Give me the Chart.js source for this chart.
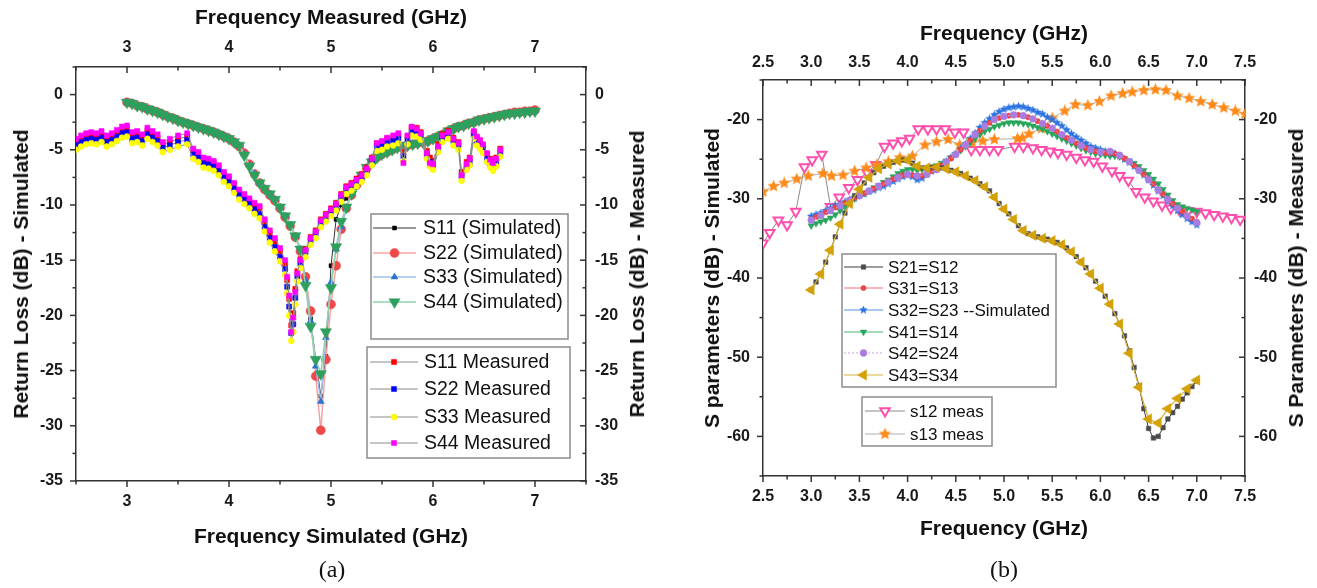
<!DOCTYPE html>
<html lang="en">
<head>
<meta charset="UTF-8">
<title>Return loss and S parameters</title>
<script src="https://cdn.jsdelivr.net/npm/chart.js"></script>
<style>
    body {
        margin: 0;
        background: #fff;
        width: 1317px;
        height: 588px;
        position: relative;
        overflow: hidden;
        font-family: "Liberation Sans", Arial, sans-serif;
        color: #111;
    }

    canvas {
        position: absolute;
        top: 0;
    }

    #chartA { left: 0; }
    #chartB { left: 660px; }

    .t {
        position: absolute;
        font-weight: bold;
        font-size: 21px;
        white-space: nowrap;
        transform: translate(-50%, -50%);
    }

    .t.v {
        transform: translate(-50%, -50%) rotate(-90deg);
    }

    .cap {
        position: absolute;
        font-family: "Liberation Serif", "Times New Roman", serif;
        font-size: 24px;
        transform: translate(-50%, -50%);
    }
</style>
</head>
<body>
<canvas id="chartA" width="660" height="550"></canvas>
<canvas id="chartB" width="657" height="550"></canvas>

<div class="t" style="left:331px;top:17px">Frequency Measured (GHz)</div>
<div class="t" style="left:331px;top:536px">Frequency Simulated (GHz)</div>
<div class="t v" style="left:21px;top:274px">Return Loss (dB) - Simulated</div>
<div class="t v" style="left:637px;top:274px">Return Loss (dB) - Measured</div>
<div class="cap" style="left:332px;top:569px">(a)</div>

<div class="t" style="left:1004px;top:33px">Frequency (GHz)</div>
<div class="t" style="left:1004px;top:528px">Frequency (GHz)</div>
<div class="t v" style="left:712px;top:278px">S parameters (dB) - Simulated</div>
<div class="t v" style="left:1296px;top:278px">S Parameters (dB) - Measured</div>
<div class="cap" style="left:1004px;top:569px">(b)</div>

<script>
    // ---------- (a) return loss ----------
    const simX = [3.00, 3.05, 3.10, 3.15, 3.20, 3.25, 3.30, 3.35, 3.40, 3.45,
        3.50, 3.55, 3.60, 3.65, 3.70, 3.75, 3.80, 3.85, 3.90, 3.95,
        4.00, 4.05, 4.10, 4.15, 4.20, 4.25, 4.30, 4.35, 4.40, 4.45,
        4.50, 4.55, 4.60, 4.65, 4.70, 4.75, 4.80, 4.85, 4.90, 4.95,
        5.00, 5.05, 5.10, 5.15, 5.20, 5.25, 5.30, 5.35, 5.40, 5.45,
        5.50, 5.55, 5.60, 5.65, 5.70, 5.75, 5.80, 5.85, 5.90, 5.95,
        6.00, 6.05, 6.10, 6.15, 6.20, 6.25, 6.30, 6.35, 6.40, 6.45,
        6.50, 6.55, 6.60, 6.65, 6.70, 6.75, 6.80, 6.85, 6.90, 6.95,
        7.00];

    const s11Sim = [-0.7, -0.8, -1.0, -1.1, -1.3, -1.45, -1.6, -1.8, -2.0, -2.15,
        -2.35, -2.5, -2.65, -2.8, -2.95, -3.1, -3.25, -3.4, -3.6, -3.8,
        -4.0, -4.3, -4.6, -5.4, -6.4, -7.3, -8.0, -8.5, -9.0, -9.5,
        -10.2, -11.0, -11.8, -12.8, -14.0, -17.0, -20.3, -24.0, -27.3, -23.7,
        -15.5, -11.3, -10.0, -9.4, -8.8, -8.1, -7.3, -6.6, -6.1, -5.7,
        -5.4, -5.2, -5.0, -4.8, -4.7, -4.6, -4.5, -4.4, -4.3, -4.2,
        -4.0, -3.8, -3.6, -3.3, -3.1, -2.9, -2.8, -2.6, -2.5, -2.3,
        -2.2, -2.1, -2.0, -1.9, -1.8, -1.7, -1.7, -1.6, -1.6, -1.5,
        -1.5];
    const s22Sim = [-0.7, -0.8, -1.0, -1.1, -1.3, -1.45, -1.6, -1.8, -2.0, -2.15,
        -2.35, -2.5, -2.65, -2.8, -2.95, -3.1, -3.25, -3.4, -3.6, -3.8,
        -4.0, -4.3, -4.7, -5.3, -6.3, -7.2, -8.0, -8.6, -9.1, -9.6,
        -10.3, -11.1, -11.9, -12.9, -14.2, -16.5, -19.6, -25.5, -30.4, -24.0,
        -19.0, -15.5, -12.2, -10.3, -9.1, -8.2, -7.4, -6.7, -6.1, -5.7,
        -5.4, -5.2, -5.0, -4.8, -4.7, -4.6, -4.5, -4.4, -4.3, -4.2,
        -4.0, -3.8, -3.6, -3.3, -3.1, -2.9, -2.8, -2.6, -2.5, -2.3,
        -2.2, -2.1, -2.0, -1.9, -1.8, -1.7, -1.6, -1.6, -1.5, -1.5,
        -1.4];
    const s33Sim = [-0.7, -0.8, -1.0, -1.1, -1.3, -1.45, -1.6, -1.8, -2.0, -2.15,
        -2.35, -2.5, -2.65, -2.8, -2.95, -3.1, -3.25, -3.4, -3.6, -3.8,
        -4.0, -4.3, -4.6, -5.4, -6.4, -7.2, -8.0, -8.5, -9.0, -9.5,
        -10.2, -11.0, -11.8, -12.8, -14.0, -16.8, -20.5, -24.6, -27.8, -22.0,
        -17.0, -14.0, -12.0, -10.3, -9.0, -8.1, -7.3, -6.6, -6.1, -5.7,
        -5.4, -5.2, -5.0, -4.8, -4.7, -4.6, -4.5, -4.4, -4.3, -4.2,
        -4.0, -3.8, -3.6, -3.3, -3.1, -2.9, -2.8, -2.6, -2.5, -2.3,
        -2.2, -2.1, -2.0, -1.9, -1.8, -1.7, -1.7, -1.6, -1.6, -1.5,
        -1.5];
    const s44Sim = [-0.7, -0.8, -1.0, -1.1, -1.3, -1.45, -1.6, -1.8, -2.0, -2.15,
        -2.35, -2.5, -2.65, -2.8, -2.95, -3.1, -3.25, -3.4, -3.6, -3.8,
        -4.0, -4.3, -4.6, -5.5, -6.5, -7.3, -8.0, -8.5, -9.0, -9.5,
        -10.2, -11.0, -11.8, -12.8, -14.0, -17.3, -21.0, -24.0, -25.3, -21.5,
        -17.5, -13.8, -11.5, -10.2, -9.0, -8.1, -7.3, -6.6, -6.1, -5.7,
        -5.4, -5.2, -5.0, -4.8, -4.7, -4.6, -4.5, -4.4, -4.3, -4.2,
        -4.0, -3.8, -3.6, -3.3, -3.1, -2.9, -2.8, -2.6, -2.5, -2.3,
        -2.2, -2.1, -2.0, -1.9, -1.8, -1.7, -1.7, -1.6, -1.6, -1.5,
        -1.5];

    const measX = [2.50, 2.55, 2.60, 2.65, 2.70, 2.75, 2.80, 2.85, 2.90, 2.95,
        3.00, 3.05, 3.10, 3.15, 3.20, 3.25, 3.30, 3.35, 3.42, 3.50,
        3.59, 3.65, 3.70, 3.75, 3.80, 3.85, 3.90, 3.95, 4.00, 4.05,
        4.10, 4.15, 4.20, 4.25, 4.30, 4.35, 4.40, 4.45, 4.50, 4.55,
        4.57, 4.59, 4.61, 4.63, 4.65, 4.67, 4.70, 4.75, 4.80, 4.85,
        4.90, 4.95, 5.00, 5.05, 5.10, 5.15, 5.20, 5.25, 5.30, 5.35,
        5.40, 5.45, 5.50, 5.55, 5.61, 5.66, 5.71, 5.75, 5.79, 5.84,
        5.88, 5.94, 5.97, 6.00, 6.05, 6.09, 6.15, 6.20, 6.25, 6.28,
        6.33, 6.36, 6.40, 6.43, 6.46, 6.49, 6.53, 6.56, 6.59, 6.62,
        6.66];

    const s11Meas = [-4.3, -4.0, -3.8, -3.7, -3.8, -3.6, -4.0, -3.8, -3.5, -3.2,
        -3.1, -3.7, -3.6, -3.9, -3.3, -3.6, -3.9, -4.5, -4.3, -4.0,
        -3.8, -5.1, -5.4, -5.9, -6.0, -6.2, -6.6, -7.2, -7.6, -8.2,
        -8.8, -9.2, -9.6, -10.0, -10.3, -11.6, -12.6, -13.3, -14.2, -15.3,
        -16.8, -18.5, -20.9, -19.8, -17.6, -16.0, -14.9, -14.0, -12.9, -12.3,
        -11.3, -10.8, -10.3, -9.8, -9.0, -8.3, -8.0, -7.6, -7.2, -6.6,
        -5.7, -4.4, -4.3, -4.0, -3.9, -3.7, -5.2, -3.8, -3.0, -3.0,
        -3.4, -5.1, -5.7, -6.0, -4.5, -3.6, -3.3, -3.9, -4.3, -7.0,
        -6.1, -5.7, -3.4, -3.9, -4.2, -4.6, -5.4, -5.8, -6.0, -5.7,
        -4.9];
    const s22Meas = [-4.6, -4.3, -4.1, -4.0, -4.1, -3.9, -4.3, -4.1, -3.8, -3.5,
        -3.4, -4.0, -3.9, -4.2, -3.6, -3.9, -4.2, -4.8, -4.6, -4.3,
        -4.1, -5.4, -5.7, -6.2, -6.3, -6.5, -6.9, -7.5, -7.9, -8.5,
        -9.1, -9.5, -9.9, -10.4, -10.8, -12.0, -13.0, -13.8, -14.7, -15.8,
        -17.4, -19.2, -21.6, -20.8, -18.4, -16.5, -15.3, -14.3, -13.2, -12.6,
        -11.6, -11.1, -10.6, -10.1, -9.3, -8.6, -8.3, -7.9, -7.5, -6.9,
        -6.0, -4.7, -4.6, -4.3, -4.2, -4.0, -5.6, -4.1, -3.4, -3.4,
        -3.8, -5.5, -6.1, -6.4, -4.9, -3.9, -3.6, -4.2, -4.6, -7.4,
        -6.5, -6.1, -3.7, -4.2, -4.5, -4.9, -5.8, -6.2, -6.4, -6.1,
        -5.3];
    const s33Meas = [-5.0, -4.7, -4.5, -4.4, -4.5, -4.3, -4.7, -4.5, -4.2, -3.9,
        -3.8, -4.4, -4.3, -4.6, -4.0, -4.3, -4.6, -5.2, -5.0, -4.7,
        -4.5, -5.8, -6.1, -6.6, -6.7, -6.9, -7.3, -7.9, -8.3, -8.9,
        -9.5, -9.9, -10.3, -10.8, -11.2, -12.4, -13.4, -14.2, -15.1, -16.3,
        -18.0, -20.0, -22.3, -21.5, -19.0, -16.9, -15.7, -14.7, -13.6, -13.0,
        -12.0, -11.5, -11.0, -10.5, -9.7, -9.0, -8.7, -8.3, -7.9, -7.3,
        -6.4, -5.1, -5.0, -4.7, -4.6, -4.4, -6.0, -4.5, -3.7, -3.8,
        -4.1, -5.8, -6.5, -6.8, -5.2, -4.3, -4.0, -4.6, -5.0, -7.8,
        -6.8, -6.4, -4.0, -4.6, -4.9, -5.3, -6.1, -6.6, -6.9, -6.5,
        -5.6];
    const s44Meas = [-4.0, -3.7, -3.5, -3.4, -3.5, -3.3, -3.7, -3.5, -3.2, -2.9,
        -2.8, -3.4, -3.3, -3.6, -3.0, -3.3, -3.6, -4.3, -4.0, -3.7,
        -3.5, -4.9, -5.2, -5.7, -5.8, -6.0, -6.4, -7.0, -7.4, -8.0,
        -8.6, -9.0, -9.4, -9.8, -10.1, -11.3, -12.3, -13.0, -13.9, -15.0,
        -16.5, -18.2, -21.5, -20.2, -17.9, -16.2, -15.0, -14.1, -13.0, -12.4,
        -11.4, -10.9, -10.4, -9.9, -9.1, -8.4, -8.1, -7.7, -7.3, -6.7,
        -5.8, -4.4, -4.2, -3.9, -3.7, -3.5, -6.2, -3.7, -2.9, -3.1,
        -3.5, -5.3, -6.2, -6.3, -4.7, -3.7, -3.4, -4.0, -4.4, -7.3,
        -6.3, -5.8, -3.3, -3.8, -4.1, -4.5, -5.3, -5.9, -6.2, -5.8,
        -5.0];

    const aXTicks = [3, 4, 5, 6, 7];
    const aYTicks = [0, -5, -10, -15, -20, -25, -30, -35];

    // ---------- (b) S parameters ----------
    const coarseX = [3.0, 3.1, 3.2, 3.3, 3.4, 3.5, 3.6, 3.7, 3.8, 3.9,
        4.0, 4.1, 4.2, 4.3, 4.4, 4.5, 4.6, 4.7, 4.8, 4.9,
        5.0, 5.1, 5.2, 5.3, 5.4, 5.5, 5.6, 5.7, 5.8, 5.9,
        6.0, 6.1, 6.2, 6.3, 6.4, 6.5, 6.6, 6.7, 6.8, 6.9,
        7.0];

    const s21 = [-41.5, -40.5, -39.5, -38.0, -36.5, -34.8, -33.2, -31.8, -30.6, -29.6,
        -28.8, -28.0, -27.3, -26.7, -26.2, -25.9, -25.6, -25.4, -25.2, -25.1,
        -25.2, -25.5, -25.9, -26.1, -26.1, -26.0, -26.0, -26.1, -26.2, -26.4,
        -26.6, -26.8, -27.1, -27.4, -27.7, -28.1, -28.5, -29.0, -29.8, -30.6,
        -31.3, -31.9, -32.6, -33.4, -34.0, -34.4, -34.6, -34.8, -35.0, -35.1,
        -35.3, -35.5, -35.8, -36.2, -36.7, -37.3, -38.0, -38.7, -39.5, -40.4,
        -41.3, -42.3, -43.3, -44.5, -45.8, -47.3, -49.2, -51.3, -53.6, -56.5,
        -59.0, -60.2, -60.0, -58.9, -57.8, -57.0, -56.2, -55.3, -54.5, -53.7,
        -53.0];
    const s31 = [-32.6, -32.3, -32.0, -31.7, -31.4, -31.1, -30.8, -30.5, -30.2, -29.9,
        -29.6, -29.3, -29.0, -28.7, -28.4, -28.1, -27.8, -27.5, -27.2, -27.0,
        -26.9, -27.0, -27.2, -27.1, -26.8, -26.5, -26.2, -25.8, -25.4, -24.9,
        -24.4, -23.8, -23.2, -22.6, -22.0, -21.4, -20.9, -20.4, -20.0, -19.8,
        -19.6, -19.5, -19.4, -19.4, -19.5, -19.7, -19.9, -20.2, -20.5, -20.8,
        -21.1, -21.5, -21.9, -22.3, -22.6, -23.0, -23.3, -23.6, -23.8, -24.0,
        -24.1, -24.2, -24.2, -24.3, -24.6, -24.9, -25.3, -25.8, -26.3, -26.9,
        -27.5, -28.1, -28.8, -29.4, -30.0, -30.6, -31.1, -31.6, -32.1, -32.5,
        -32.9];
    const s32 = [-32.2, -32.0, -31.8, -31.5, -31.2, -30.9, -30.7, -30.4, -30.1, -29.9,
        -29.6, -29.4, -29.1, -28.9, -28.6, -28.4, -28.1, -27.8, -27.5, -27.2,
        -27.0, -27.2, -27.6, -27.4, -26.9, -26.5, -26.2, -25.8, -25.3, -24.8,
        -24.3, -23.7, -23.1, -22.4, -21.7, -21.0, -20.4, -19.9, -19.4, -19.0,
        -18.7, -18.5, -18.4, -18.3, -18.4, -18.6, -18.8, -19.1, -19.3, -19.7,
        -20.0, -20.4, -20.8, -21.3, -21.8, -22.2, -22.6, -23.0, -23.4, -23.6,
        -23.8, -24.0, -24.1, -24.3, -24.6, -25.0, -25.4, -25.9, -26.4, -27.0,
        -27.6, -28.3, -29.0, -29.6, -30.3, -30.9, -31.5, -32.0, -32.5, -32.9,
        -33.3];
    const s41 = [-33.4, -33.1, -32.9, -32.7, -32.4, -32.0, -31.5, -31.0, -30.5, -30.0,
        -29.6, -29.3, -29.0, -28.6, -28.3, -27.9, -27.6, -27.2, -26.8, -26.5,
        -26.3, -26.3, -26.4, -26.3, -26.2, -26.0, -25.8, -25.5, -25.2, -24.8,
        -24.4, -23.9, -23.4, -22.9, -22.4, -21.9, -21.5, -21.2, -20.9, -20.7,
        -20.5, -20.4, -20.4, -20.4, -20.5, -20.6, -20.8, -21.0, -21.2, -21.5,
        -21.8, -22.1, -22.4, -22.7, -23.0, -23.3, -23.6, -23.9, -24.1, -24.3,
        -24.4, -24.5, -24.6, -24.6, -24.7, -24.9, -25.2, -25.5, -25.9, -26.4,
        -26.9, -27.5, -28.1, -28.8, -29.5, -30.2, -30.7, -31.0, -31.2, -31.4,
        -31.6];
    const s42 = [-32.7, -32.1, -31.5, -30.9, -30.2, -29.6, -29.0, -28.4, -27.9, -27.3,
        -26.9, -27.1, -26.9, -26.3, -25.4, -24.4, -23.2, -21.9, -20.8, -20.0,
        -19.6, -19.4, -19.5, -19.9, -20.5, -21.1, -21.9, -22.6, -23.3, -23.8,
        -24.1, -24.0, -24.5, -25.3, -26.4, -27.6, -28.9, -30.1, -31.2, -32.2,
        -33.0];
    const s43 = [-41.5, -39.5, -36.5, -33.2, -30.6, -28.8, -27.3, -26.2, -25.6, -25.2,
        -25.1, -25.9, -26.1, -26.0, -26.2, -26.6, -27.1, -27.7, -28.5, -29.8,
        -31.3, -32.6, -34.0, -34.6, -35.0, -35.3, -35.8, -36.7, -38.0, -39.5,
        -41.3, -43.3, -45.8, -49.5, -53.8, -57.8, -58.3, -56.5, -55.2, -54.0,
        -52.9];

    const s12MeasX = [2.50, 2.57, 2.66, 2.75, 2.84, 2.93, 3.01, 3.11, 3.20, 3.29,
        3.39, 3.48, 3.58, 3.67, 3.76, 3.85, 3.94, 4.02, 4.11, 4.21,
        4.30, 4.39, 4.49, 4.58, 4.66, 4.75, 4.85, 4.94, 5.11, 5.20,
        5.30, 5.39, 5.48, 5.56, 5.65, 5.75, 5.84, 5.93, 6.02, 6.12,
        6.20, 6.29, 6.37, 6.46, 6.55, 6.64, 6.73, 6.82, 6.91, 7.00,
        7.09, 7.18, 7.27, 7.36, 7.45];
    const s12Meas = [-35.6, -34.3, -32.7, -33.3, -31.6, -26.0, -25.1, -24.4, -31.0, -29.8,
        -28.6, -27.6, -26.7, -25.7, -23.4, -23.0, -22.7, -22.4, -21.2, -21.2,
        -21.2, -21.2, -21.6, -21.6, -23.8, -23.8, -23.8, -23.8, -23.4, -23.4,
        -23.6, -23.8, -24.0, -24.2, -24.4, -24.8, -25.1, -25.3, -25.9, -26.5,
        -27.1, -27.7, -29.1, -29.8, -30.3, -30.8, -31.2, -31.4, -31.5, -31.6,
        -31.8, -32.0, -32.2, -32.4, -32.6];

    const s13MeasX = [2.50, 2.61, 2.72, 2.85, 2.97, 3.12, 3.21, 3.33, 3.45, 3.57,
        3.68, 3.80, 3.92, 4.05, 4.18, 4.30, 4.42, 4.54, 4.67, 4.78,
        4.90, 5.14, 5.19, 5.26, 5.39, 5.50, 5.63, 5.74, 5.87, 5.99,
        6.11, 6.23, 6.33, 6.45, 6.57, 6.68, 6.80, 6.92, 7.04, 7.16,
        7.28, 7.40, 7.50];
    const s13Meas = [-29.1, -28.4, -28.0, -27.5, -27.1, -26.8, -27.1, -27.0, -26.5, -26.1,
        -25.7, -25.3, -24.8, -24.6, -23.2, -22.8, -22.5, -23.2, -22.9, -22.7,
        -22.5, -22.4, -22.3, -21.8, -21.1, -19.8, -18.9, -18.1, -18.2, -17.7,
        -17.0, -16.7, -16.5, -16.3, -16.2, -16.3, -17.0, -17.3, -17.7, -18.1,
        -18.5, -18.9, -19.3];

    const bXTicks = [2.5, 3.0, 3.5, 4.0, 4.5, 5.0, 5.5, 6.0, 6.5, 7.0, 7.5];
    const bYTicks = [-20, -30, -40, -50, -60];

    // ---------- helpers ----------
    function pts(xs, ys) {
        return xs.map((x, i) => ({ x: x, y: ys[i] }));
    }

    function starImg(size, fill) {
        const c = document.createElement('canvas');
        c.width = c.height = size;
        const g = c.getContext('2d');
        const r = size / 2, ri = r * 0.45;
        g.beginPath();
        for (let k = 0; k < 10; k++) {
            const a = -Math.PI / 2 + k * Math.PI / 5;
            const rr = k % 2 ? ri : r;
            g.lineTo(r + rr * Math.cos(a), r + rr * Math.sin(a));
        }
        g.closePath();
        g.fillStyle = fill;
        g.fill();
        return c;
    }

    function series(label, data, o) {
        return {
            label: label,
            data: data,
            showLine: true,
            tension: 0,
            borderColor: o.line,
            borderWidth: o.lw || 1,
            borderDash: o.dash || [],
            pointStyle: o.style,
            pointRotation: o.rot || 0,
            pointRadius: o.r,
            pointBackgroundColor: o.fill,
            pointBorderColor: o.stroke || o.fill,
            pointBorderWidth: o.bw || 0.5,
            order: o.order
        };
    }

    // marker drawn the same way Chart.js draws points, for the legend boxes
    function marker(ctx, ds, x, y) {
        const st = ds.pointStyle, r = ds.pointRadius;
        if (st instanceof HTMLCanvasElement) {
            ctx.drawImage(st, x - st.width / 2, y - st.height / 2);
            return;
        }
        ctx.save();
        ctx.translate(x, y);
        ctx.rotate(ds.pointRotation * Math.PI / 180);
        ctx.beginPath();
        if (st === 'circle') {
            ctx.arc(0, 0, r, 0, 2 * Math.PI);
        } else if (st === 'rect') {
            const s = r * Math.SQRT1_2;
            ctx.rect(-s, -s, 2 * s, 2 * s);
        } else {
            for (let k = 0; k < 3; k++) {
                const a = k * 2 * Math.PI / 3;
                ctx.lineTo(Math.sin(a) * r, -Math.cos(a) * r);
            }
            ctx.closePath();
        }
        ctx.fillStyle = ds.pointBackgroundColor;
        ctx.fill();
        ctx.lineWidth = ds.pointBorderWidth;
        ctx.strokeStyle = ds.pointBorderColor;
        ctx.stroke();
        ctx.restore();
    }

    const boxLegend = {
        id: 'boxLegend',
        afterDraw(chart, args, opts) {
            const ctx = chart.ctx;
            ctx.save();
            ctx.font = opts.font;
            ctx.textBaseline = 'middle';
            opts.boxes.forEach(b => {
                ctx.setLineDash([]);
                ctx.strokeStyle = '#8c8c8c';
                ctx.lineWidth = 1.5;
                ctx.strokeRect(b.x, b.y, b.w, b.h);
                b.rows.forEach(row => {
                    const ds = chart.data.datasets.find(d => d.label === row[0]);
                    ctx.strokeStyle = ds.borderColor;
                    ctx.lineWidth = ds.borderWidth;
                    ctx.setLineDash(ds.borderDash);
                    ctx.beginPath();
                    ctx.moveTo(b.x1, row[1]);
                    ctx.lineTo(b.x2, row[1]);
                    ctx.stroke();
                    ctx.setLineDash([]);
                    marker(ctx, ds, (b.x1 + b.x2) / 2, row[1]);
                    ctx.fillStyle = '#111';
                    ctx.fillText(ds.label, b.tx, row[1] + 1);
                });
            });
            ctx.restore();
        }
    };

    // major/minor tick marks: outward on bottom/left, inward on top/right
    const tickMarks = {
        id: 'tickMarks',
        afterDraw(chart, args, opts) {
            const ctx = chart.ctx, a = chart.chartArea;
            ctx.save();
            ctx.strokeStyle = '#333';
            ctx.lineWidth = 1.5;
            opts.axes.forEach(t => {
                const sc = chart.scales[t.id];
                const n = Math.round((sc.max - sc.min) / t.minor);
                for (let k = 0; k <= n; k++) {
                    const v = sc.min + k * t.minor;
                    const major = Math.abs(v / t.major - Math.round(v / t.major)) < 1e-6;
                    const len = major ? 6 : 3.5;
                    const p = sc.getPixelForValue(v);
                    ctx.beginPath();
                    if (sc.position === 'bottom') { ctx.moveTo(p, a.bottom); ctx.lineTo(p, a.bottom + len); }
                    else if (sc.position === 'top') { ctx.moveTo(p, a.top); ctx.lineTo(p, a.top + len); }
                    else if (sc.position === 'left') { ctx.moveTo(a.left, p); ctx.lineTo(a.left - len, p); }
                    else { ctx.moveTo(a.right, p); ctx.lineTo(a.right - len, p); }
                    ctx.stroke();
                }
            });
            ctx.restore();
        }
    };

    function axis(pos, min, max, tickList, fmt, pad, size) {
        return {
            type: 'linear',
            position: pos,
            min: min,
            max: max,
            grid: { display: false, drawTicks: false },
            border: { display: true, color: '#333', width: 1.5 },
            ticks: {
                padding: pad,
                color: '#1a1a1a',
                autoSkip: false,
                maxRotation: 0,
                font: { family: 'Liberation Sans', size: 16, weight: 'bold' },
                callback: fmt
            },
            afterBuildTicks: s => { s.ticks = tickList.map(v => ({ value: v })); },
            afterFit: s => { if (s.isHorizontal()) s.height = size; else s.width = size; }
        };
    }

    const intFmt = v => String(v);
    const decFmt = v => v.toFixed(1);

    // ---------- chart (a) ----------
    const gray = '#8c8c8c';
    new Chart(document.getElementById('chartA'), {
        type: 'scatter',
        data: {
            datasets: [
                series('S11 Measured', pts(measX, s11Meas), { line: gray, style: 'rect', r: 3.6, fill: '#ff0000', order: 4 }),
                series('S22 Measured', pts(measX, s22Meas), { line: gray, style: 'rect', r: 3.6, fill: '#0000ff', order: 3 }),
                series('S33 Measured', pts(measX, s33Meas), { line: gray, style: 'circle', r: 3, fill: '#ffff00', stroke: '#eeee00', order: 2 }),
                series('S44 Measured', pts(measX, s44Meas), { line: gray, style: 'rect', r: 3.6, fill: '#ff00ff', order: 1 }),
                series('S11 (Simulated)', pts(simX, s11Sim), { line: '#333', style: 'rect', r: 2.8, fill: '#000', order: 9 }),
                series('S22 (Simulated)', pts(simX, s22Sim), { line: '#f7a3a3', lw: 1.5, style: 'circle', r: 4.5, fill: '#f04848', order: 8 }),
                series('S33 (Simulated)', pts(simX, s33Sim), { line: '#9ec0ec', lw: 1.5, style: 'triangle', r: 4, fill: '#2f6fd0', order: 7 }),
                series('S44 (Simulated)', pts(simX, s44Sim), { line: '#8fd3a8', lw: 1.5, style: 'triangle', rot: 180, r: 6.5, fill: '#2ea05e', order: 6 })
            ]
        },
        options: {
            responsive: false,
            animation: false,
            events: [],
            layout: { padding: 0 },
            scales: {
                x: axis('bottom', 2.5, 7.5, aXTicks, intFmt, 11, 69),
                x2: axis('top', 2.5, 7.5, aXTicks, intFmt, 10, 67),
                y: axis('left', -35, 2.5, aYTicks, intFmt, 13, 76),
                y2: axis('right', -35, 2.5, aYTicks, intFmt, 9, 74)
            },
            plugins: {
                legend: { display: false },
                tooltip: { enabled: false },
                tickMarks: {
                    axes: [
                        { id: 'x', major: 1, minor: 0.5 },
                        { id: 'x2', major: 1, minor: 0.5 },
                        { id: 'y', major: 5, minor: 2.5 },
                        { id: 'y2', major: 5, minor: 2.5 }
                    ]
                },
                boxLegend: {
                    font: '19.5px "Liberation Sans", Arial, sans-serif',
                    boxes: [
                        {
                            x: 371, y: 214, w: 197, h: 125, x1: 373, x2: 416, tx: 423,
                            rows: [['S11 (Simulated)', 228], ['S22 (Simulated)', 253], ['S33 (Simulated)', 277], ['S44 (Simulated)', 302]]
                        },
                        {
                            x: 367, y: 347, w: 203, h: 111, x1: 370, x2: 418, tx: 424,
                            rows: [['S11 Measured', 362], ['S22 Measured', 389], ['S33 Measured', 417], ['S44 Measured', 443]]
                        }
                    ]
                }
            }
        },
        plugins: [tickMarks, boxLegend]
    });

    // ---------- chart (b) ----------
    const blueStar = starImg(9, '#2a72e0');
    const orangeStar = starImg(13, '#ff8a1a');

    new Chart(document.getElementById('chartB'), {
        type: 'scatter',
        data: {
            datasets: [
                series('S21=S12', pts(simX, s21), { line: '#3c3c3c', style: 'rect', r: 3.2, fill: '#4a4a4a', order: 2 }),
                series('S31=S13', pts(simX, s31), { line: '#f5a0a0', lw: 1.5, style: 'circle', r: 2.6, fill: '#f04040', order: 4 }),
                series('S32=S23 --Simulated', pts(simX, s32), { line: '#8fb6ee', lw: 1.5, style: blueStar, r: 4, fill: '#2a72e0', order: 5 }),
                series('S41=S14', pts(simX, s41), { line: '#86cfa0', lw: 1.5, style: 'triangle', rot: 180, r: 3.8, fill: '#27a55a', order: 6 }),
                series('S42=S24', pts(coarseX, s42), { line: '#c9a6ee', lw: 1, dash: [2, 2], style: 'circle', r: 3.4, fill: '#a97de0', order: 3 }),
                series('S43=S34', pts(coarseX, s43), { line: '#d8b23a', lw: 1.2, style: 'triangle', rot: 270, r: 6, fill: '#d4a106', order: 1 }),
                series('s12 meas', pts(s12MeasX, s12Meas), { line: '#8a8a8a', style: 'triangle', rot: 180, r: 5.5, fill: '#ffffff', stroke: '#ff4fae', bw: 2, order: 8 }),
                series('s13 meas', pts(s13MeasX, s13Meas), { line: '#9a9a9a', lw: 0.8, style: orangeStar, r: 6, fill: '#ff8a1a', order: 7 })
            ]
        },
        options: {
            responsive: false,
            animation: false,
            events: [],
            layout: { padding: 0 },
            scales: {
                x: axis('bottom', 2.5, 7.5, bXTicks, decFmt, 11, 74),
                x2: axis('top', 2.5, 7.5, bXTicks, decFmt, 8, 80),
                y: axis('left', -65, -15, bYTicks, intFmt, 13, 103),
                y2: axis('right', -65, -15, bYTicks, intFmt, 9, 72)
            },
            plugins: {
                legend: { display: false },
                tooltip: { enabled: false },
                tickMarks: {
                    axes: [
                        { id: 'x', major: 0.5, minor: 0.25 },
                        { id: 'x2', major: 0.5, minor: 0.25 },
                        { id: 'y', major: 10, minor: 5 },
                        { id: 'y2', major: 10, minor: 5 }
                    ]
                },
                boxLegend: {
                    font: '17px "Liberation Sans", Arial, sans-serif',
                    boxes: [
                        {
                            x: 182, y: 254, w: 214, h: 133, x1: 184, x2: 223, tx: 228,
                            rows: [['S21=S12', 267], ['S31=S13', 288], ['S32=S23 --Simulated', 310],
                                ['S41=S14', 332], ['S42=S24', 353], ['S43=S34', 375]]
                        },
                        {
                            x: 202, y: 397, w: 130, h: 49, x1: 205, x2: 245, tx: 250,
                            rows: [['s12 meas', 411], ['s13 meas', 434]]
                        }
                    ]
                }
            }
        },
        plugins: [tickMarks, boxLegend]
    });
</script>
</body>
</html>
